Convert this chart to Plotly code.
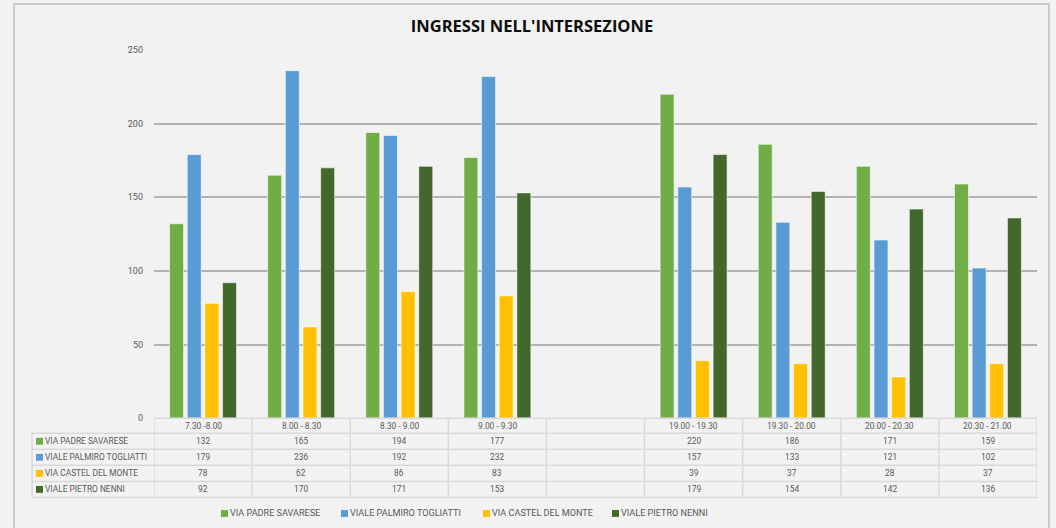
import plotly.graph_objects as go

W, H = 1056, 528

categories = ["7.30 -8.00", "8.00 - 8.30", "8.30 - 9.00", "9.00 - 9.30", " ",
              "19.00 - 19.30", "19.30 - 20.00", "20.00 - 20.30", "20.30 - 21.00"]
series_names = ["VIA PADRE SAVARESE", "VIALE PALMIRO TOGLIATTI",
                "VIA CASTEL DEL MONTE", "VIALE PIETRO NENNI"]
via_padre_savarese = [132, 165, 194, 177, None, 220, 186, 171, 159]
viale_palmiro_togliatti = [179, 236, 192, 232, None, 157, 133, 121, 102]
via_castel_del_monte = [78, 62, 86, 83, None, 39, 37, 28, 37]
viale_pietro_nenni = [92, 170, 171, 153, None, 179, 154, 142, 136]
series_values = [via_padre_savarese, viale_palmiro_togliatti,
                 via_castel_del_monte, viale_pietro_nenni]
colors = ["#70ad47", "#5b9bd5", "#ffc000", "#43682b"]
y_ticks = [0, 50, 100, 150, 200, 250]
title = "INGRESSI NELL'INTERSEZIONE"


def px_x(p):
    return p / W


def px_y(p):
    # vertical pixel -> paper fraction (slight correction for the capture's vertical fit)
    q = (p - 5.1) / 0.978
    return 1 - q / H


FONT = "Roboto, Arial, sans-serif"
TXT = "#595959"
LINE = "#d9d9d9"

# layout geometry (pixels)
X0, X1 = 154, 1037          # plot area / table category columns
Y_TOP, Y_ZERO = 50, 417     # 250 and 0
LBL_X0 = 32                 # table row-label column left
ROW_LINES = [417, 432, 448, 464, 480, 496]
LEGEND_Y = 512
LEGEND_SQ_X = [221, 341, 483, 612]   # left edge of legend swatches

fig = go.Figure()
for name, vals, col in zip(series_names, series_values, colors):
    fig.add_trace(go.Bar(
        x=categories, y=vals, name=name, showlegend=False,
        marker=dict(color=col, line=dict(color="rgba(255,255,255,0.55)", width=1)),
        hoverinfo="x+y+name",
    ))

shapes = []
annotations = []

# outer chart border
shapes.append(dict(type="rect", xref="paper", yref="paper",
                   x0=px_x(14), x1=px_x(1049), y0=-0.05, y1=px_y(4),
                   line=dict(color="#bfbfbf", width=1.5), layer="below"))

# table horizontal lines
for i, yy in enumerate(ROW_LINES):
    x_start = X0 if i == 0 else LBL_X0
    shapes.append(dict(type="line", xref="paper", yref="paper",
                       x0=px_x(x_start), x1=px_x(X1), y0=px_y(yy), y1=px_y(yy),
                       line=dict(color=LINE, width=1.5)))
# vertical lines at category boundaries
n = len(categories)
for k in range(n + 1):
    shapes.append(dict(type="line", xref="x", yref="paper",
                       x0=k - 0.5, x1=k - 0.5, y0=px_y(ROW_LINES[0]), y1=px_y(ROW_LINES[-1]),
                       line=dict(color=LINE, width=1.5)))
# left border of label column
shapes.append(dict(type="line", xref="paper", yref="paper",
                   x0=px_x(LBL_X0), x1=px_x(LBL_X0), y0=px_y(ROW_LINES[1]), y1=px_y(ROW_LINES[-1]),
                   line=dict(color=LINE, width=1.5)))

TFS = 8.4
# header row (category labels)
hdr_y = px_y((ROW_LINES[0] + ROW_LINES[1]) / 2)
for c in categories:
    annotations.append(dict(x=c, xref="x", y=hdr_y, yref="paper", text=c.strip(),
                            showarrow=False, font=dict(family=FONT, size=TFS, color=TXT),
                            xanchor="center", yanchor="middle"))

# data rows
for r, (name, vals, col) in enumerate(zip(series_names, series_values, colors)):
    yc = px_y((ROW_LINES[r + 1] + ROW_LINES[r + 2]) / 2)
    shapes.append(dict(type="rect", xref="paper", yref="paper",
                       x0=px_x(36), x1=px_x(43),
                       y0=yc - 3.5 / H, y1=yc + 3.5 / H,
                       fillcolor=col, line=dict(width=0)))
    annotations.append(dict(x=px_x(43), xref="paper", y=yc, yref="paper", text=name,
                            showarrow=False, font=dict(family=FONT, size=TFS, color=TXT),
                            xanchor="left", yanchor="middle"))
    for c, v in zip(categories, vals):
        if v is None:
            continue
        annotations.append(dict(x=c, xref="x", y=yc, yref="paper", text=str(v),
                                showarrow=False, font=dict(family=FONT, size=TFS, color=TXT),
                                xanchor="center", yanchor="middle"))

# legend (swatch + label)
ly = px_y(LEGEND_Y)
for name, col, sx in zip(series_names, colors, LEGEND_SQ_X):
    shapes.append(dict(type="rect", xref="paper", yref="paper",
                       x0=px_x(sx), x1=px_x(sx + 7), y0=ly - 3.5 / H, y1=ly + 3.5 / H,
                       fillcolor=col, line=dict(width=0)))
    annotations.append(dict(x=px_x(sx + 7), xref="paper", y=ly, yref="paper", text=name,
                            showarrow=False, font=dict(family=FONT, size=9.1, color=TXT),
                            xanchor="left", yanchor="middle"))

fig.update_layout(
    width=W, height=H,
    margin=dict(l=0, r=0, t=0, b=0),
    paper_bgcolor="#f2f2f2", plot_bgcolor="#f2f2f2",
    title=dict(text="<b>" + title + "</b>", x=px_x(532), xanchor="center",
               y=1 - 26 / H, yanchor="middle",
               font=dict(family="Open Sans, Arial, sans-serif", size=16.5, color="#0d0d0d")),
    barmode="group", bargap=0.28, bargroupgap=0.21,
    showlegend=False,
    xaxis=dict(domain=[px_x(X0), px_x(X1)], range=[-0.5, n - 0.5],
               showticklabels=False, showgrid=False, zeroline=False, showline=False,
               type="category", fixedrange=True),
    yaxis=dict(domain=[px_y(Y_ZERO), px_y(Y_TOP)], range=[0, 250],
               tickvals=y_ticks, ticks="", showgrid=True, gridcolor="#b3b3b3", gridwidth=1.5,
               zeroline=False, showline=False, ticklabelstandoff=10,
               tickfont=dict(family=FONT, size=9, color=TXT), fixedrange=True),
    shapes=shapes, annotations=annotations,
)

fig.write_html("out.html", config={"displayModeBar": False},
               post_script="document.body.style.margin='0';document.body.style.overflow='hidden';"
                           "document.documentElement.style.overflow='hidden';")
